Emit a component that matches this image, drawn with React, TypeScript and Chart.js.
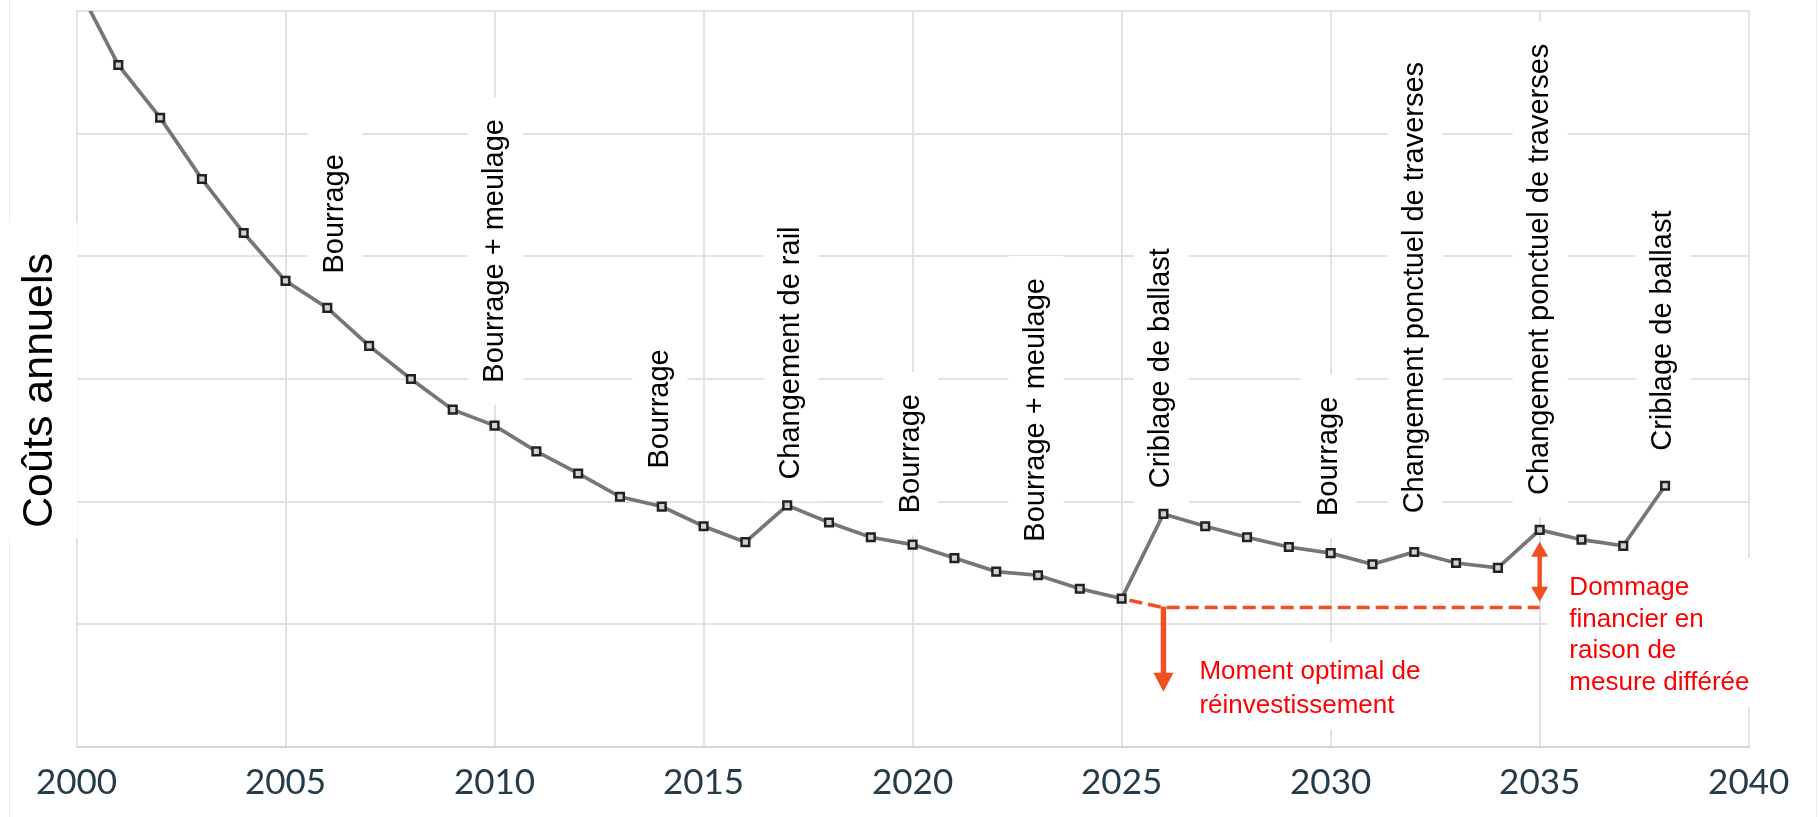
import React, { useEffect, useRef } from "react";
import { Chart, registerables } from "chart.js";

Chart.register(...registerables);

// ---------- data ----------
const years = [
  2000, 2001, 2002, 2003, 2004, 2005, 2006, 2007, 2008, 2009,
  2010, 2011, 2012, 2013, 2014, 2015, 2016, 2017, 2018, 2019,
  2020, 2021, 2022, 2023, 2024, 2025, 2026, 2027, 2028, 2029,
  2030, 2031, 2032, 2033, 2034, 2035, 2036, 2037, 2038,
];
const annualCosts = [
  6.22, 5.56, 5.13, 4.63, 4.19, 3.8, 3.58, 3.27, 3.0, 2.75,
  2.62, 2.41, 2.23, 2.04, 1.96, 1.8, 1.67, 1.97, 1.83, 1.71,
  1.65, 1.54, 1.43, 1.4, 1.29, 1.21, 1.9, 1.8, 1.71, 1.63,
  1.58, 1.49, 1.59, 1.5, 1.46, 1.77, 1.69, 1.64, 2.13,
];
const optimalYears = [2025, 2026, 2035];
const optimalCosts = [1.21, 1.137, 1.137];

const xTickValues = [2000, 2005, 2010, 2015, 2020, 2025, 2030, 2035, 2040];
const yGridValues = [0, 1, 2, 3, 4, 5, 6];

const eventLabels = [
  "Bourrage",
  "Bourrage + meulage",
  "Bourrage",
  "Changement de rail",
  "Bourrage",
  "Bourrage + meulage",
  "Criblage de ballast",
  "Bourrage",
  "Changement ponctuel de traverses",
  "Changement ponctuel de traverses",
  "Criblage de ballast",
];
const eventLabelX = [2006.23, 2010.07, 2014.0, 2017.14, 2020.0, 2023.0, 2026.0, 2030.0, 2032.07, 2035.06, 2038.0];
const eventLabelY = [3.86, 2.97, 2.27, 2.18, 1.905, 1.674, 2.109, 1.883, 1.905, 2.054, 2.415];

const yTitle = "Coûts annuels";

const noteOptimalLines = ["Moment optimal de", "réinvestissement"];
const noteOptimalAnchor = [2026.86, 0.552];
const noteDamageLines = ["Dommage", "financier en", "raison de", "mesure différée"];
const noteDamageAnchor = [2035.71, 1.239];

// arrows: [x, tailValue, tipValue]
const arrowOptimal = [2026, 1.137, 0.451];
const arrowDamage = [2035, 1.184, 1.674];

// ---------- styles ----------
const SANS = '"Liberation Sans", Arial, "DejaVu Sans", sans-serif';
const RED_TEXT = "#ff0000";
const RED_MARK = "#f04e23";
const GRID = "#e2e2e2";

function drawArrowHead(ctx: any, x: number, tipY: number, dir: number, len: number, w: number) {
  ctx.beginPath();
  ctx.moveTo(x, tipY);
  ctx.lineTo(x - w / 2, tipY - dir * len);
  ctx.lineTo(x + w / 2, tipY - dir * len);
  ctx.closePath();
  ctx.fill();
}

const annotationPlugin = {
  id: "annotations",
  beforeDatasetsDraw(chart: any) {
    const { ctx, chartArea, scales } = chart;
    const xs = scales.x;
    const ys = scales.y;
    ctx.save();

    // faint frame lines
    ctx.strokeStyle = "#ececec";
    ctx.lineWidth = 1;
    ctx.beginPath();
    ctx.moveTo(9.5, 0);
    ctx.lineTo(9.5, 817);
    ctx.moveTo(1816.5, 0);
    ctx.lineTo(1816.5, 817);
    ctx.stroke();

    // y title with white background
    ctx.fillStyle = "#ffffff";
    ctx.fillRect(0, 223, chartArea.left + 1.2, 315);
    ctx.save();
    ctx.translate(40, 390.5);
    ctx.rotate(-Math.PI / 2);
    ctx.font = `43px ${SANS}`;
    ctx.fillStyle = "#000000";
    ctx.textAlign = "center";
    ctx.textBaseline = "middle";
    ctx.fillText(yTitle, 0, 0);
    ctx.restore();

    // rotated event labels with white boxes
    ctx.font = `29px ${SANS}`;
    for (let i = 0; i < eventLabels.length; i++) {
      const px = xs.getPixelForValue(eventLabelX[i]) - 2;
      const py = ys.getPixelForValue(eventLabelY[i]);
      const w = ctx.measureText(eventLabels[i]).width;
      ctx.fillStyle = "#ffffff";
      ctx.fillRect(px - 27.5, py - w - 22, 55, w + 44);
      ctx.save();
      ctx.translate(px, py);
      ctx.rotate(-Math.PI / 2);
      ctx.fillStyle = "#000000";
      ctx.textAlign = "left";
      ctx.textBaseline = "middle";
      ctx.fillText(eventLabels[i], 0, 0);
      ctx.restore();
    }

    // red notes with white boxes
    const drawNote = (lines: string[], anchor: number[], lh: number) => {
      ctx.font = `26px ${SANS}`;
      const left = xs.getPixelForValue(anchor[0]);
      const base = ys.getPixelForValue(anchor[1]);
      let maxW = 0;
      lines.forEach((l) => (maxW = Math.max(maxW, ctx.measureText(l).width)));
      ctx.fillStyle = "#ffffff";
      ctx.fillRect(left - 22, base - 37, maxW + 32, 37 + lh * (lines.length - 1) + 17);
      ctx.fillStyle = RED_TEXT;
      ctx.textAlign = "left";
      ctx.textBaseline = "alphabetic";
      lines.forEach((l, k) => ctx.fillText(l, left, base + k * lh));
    };
    drawNote(noteOptimalLines, noteOptimalAnchor, 33.4);
    drawNote(noteDamageLines, noteDamageAnchor, 31.7);

    ctx.restore();
  },
  afterDatasetsDraw(chart: any) {
    const { ctx, scales } = chart;
    const xs = scales.x;
    const ys = scales.y;
    ctx.save();
    ctx.fillStyle = RED_MARK;
    ctx.strokeStyle = RED_MARK;

    // single arrow (down)
    {
      const x = xs.getPixelForValue(arrowOptimal[0]);
      const y0 = ys.getPixelForValue(arrowOptimal[1]);
      const y1 = ys.getPixelForValue(arrowOptimal[2]);
      const headLen = 19;
      ctx.fillRect(x - 2.7, y0 - 1, 5.4, y1 - y0 - headLen + 2);
      drawArrowHead(ctx, x, y1, 1, headLen, 20);
    }
    // double arrow
    {
      const x = xs.getPixelForValue(arrowDamage[0]);
      const yb = ys.getPixelForValue(arrowDamage[1]);
      const yt = ys.getPixelForValue(arrowDamage[2]);
      const headLen = 15;
      ctx.fillRect(x - 2.2, yt + headLen - 1, 4.4, yb - yt - 2 * headLen + 2);
      drawArrowHead(ctx, x, yb, 1, headLen, 17);
      drawArrowHead(ctx, x, yt, -1, headLen, 17);
    }
    ctx.restore();
  },
};

export default function App() {
  const canvasRef = useRef<HTMLCanvasElement | null>(null);

  useEffect(() => {
    const canvas = canvasRef.current;
    if (!canvas) return;
    const chart = new Chart(canvas, {
      type: "line",
      data: {
        datasets: [
          {
            label: "Coûts annuels",
            data: years.map((yr, i) => ({ x: yr, y: annualCosts[i] })),
            borderColor: "#767676",
            borderWidth: 3.7,
            tension: 0,
            pointStyle: "rect",
            pointRadius: 5.4,
            pointBorderWidth: 2.5,
            pointBorderColor: "#222222",
            pointBackgroundColor: "#d2d2d2",
            clip: 0,
            order: 0,
          },
          {
            label: "Optimal",
            data: optimalYears.map((yr, i) => ({ x: yr, y: optimalCosts[i] })),
            borderColor: RED_MARK,
            borderWidth: 3.5,
            borderDash: [13, 6],
            borderDashOffset: -8,
            pointRadius: 0,
            tension: 0,
            clip: 0,
            order: 1,
          },
        ],
      },
      options: {
        animation: false,
        responsive: false,
        devicePixelRatio: 1,
        layout: { padding: { left: 0, top: 11, right: 69.3, bottom: 0 } },
        plugins: {
          legend: { display: false },
          tooltip: { enabled: false },
          title: { display: false },
        },
        events: [],
        scales: {
          x: {
            type: "linear",
            min: 2000,
            max: 2040,
            afterBuildTicks: (s: any) => {
              s.ticks = xTickValues.map((v) => ({ value: v }));
            },
            afterFit: (s: any) => {
              s.height = 70;
            },
            grid: { color: GRID, lineWidth: 2, drawTicks: false },
            border: { display: true, color: "#d6d6d6", width: 2 },
            ticks: {
              autoSkip: false,
              maxRotation: 0,
              minRotation: 0,
              padding: 15,
              color: "#243b4a",
              font: { family: "Lato, 'Open Sans', sans-serif", size: 35 },
              callback: (v: any) => String(v),
            },
          },
          y: {
            type: "linear",
            min: 0,
            max: 6,
            afterBuildTicks: (s: any) => {
              s.ticks = yGridValues.map((v) => ({ value: v }));
            },
            afterFit: (s: any) => {
              s.width = 76.5;
            },
            grid: { color: GRID, lineWidth: 2, drawTicks: false },
            border: { display: true, color: GRID, width: 2 },
            ticks: { display: false },
          },
        },
      },
      plugins: [annotationPlugin],
    });
    return () => chart.destroy();
  }, []);

  return (
    <div style={{ position: "fixed", left: 0, top: 0, width: 1818, height: 817, background: "#ffffff" }}>
      <canvas ref={canvasRef} width={1818} height={817} style={{ width: 1818, height: 817, display: "block" }} />
    </div>
  );
}
